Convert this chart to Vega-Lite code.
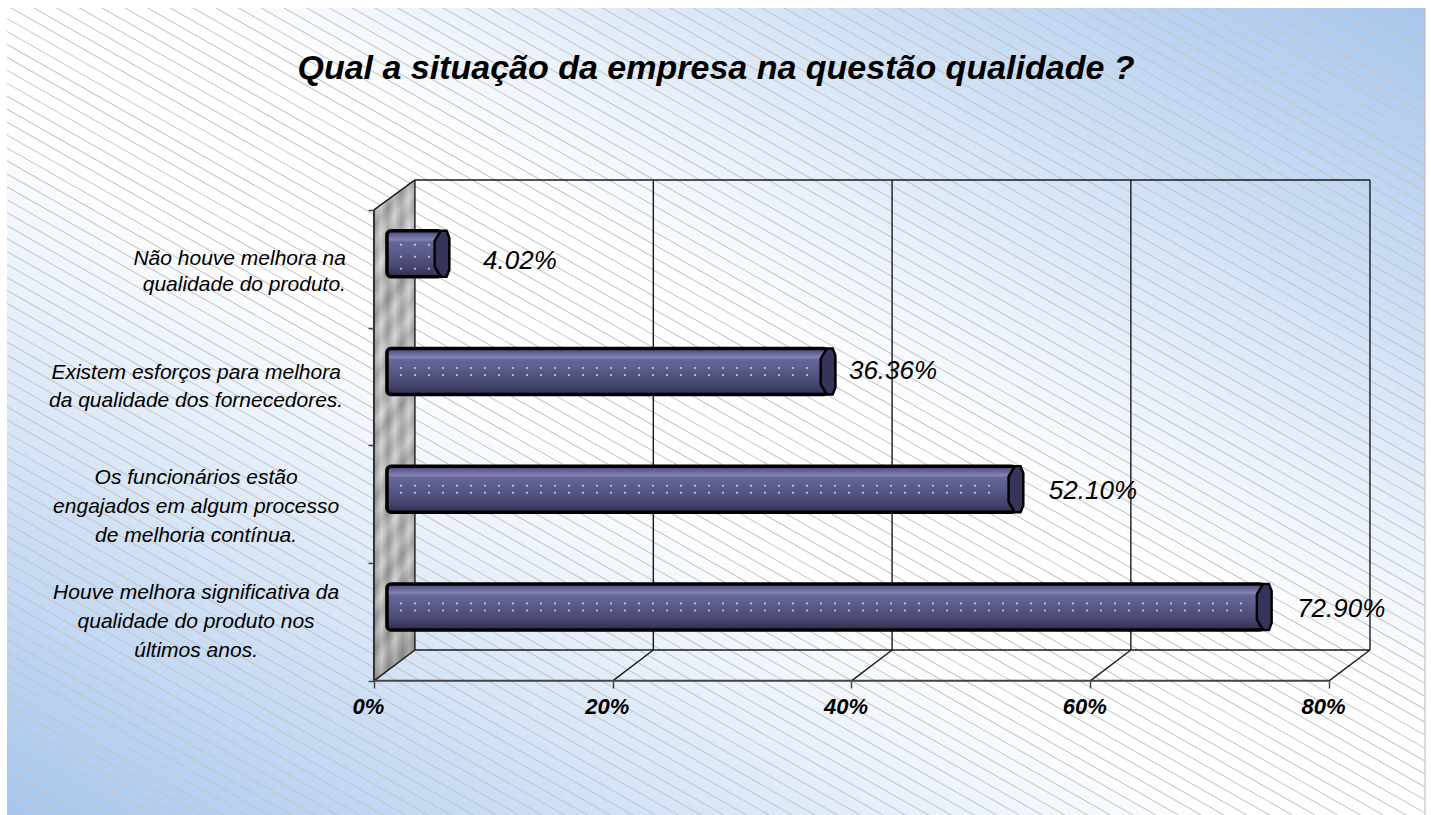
{"$schema":"https://vega.github.io/schema/vega-lite/v6.json","width":1418,"height":807,"padding":{"left":7,"top":8,"right":6,"bottom":0},"autosize":"none","background":"white","title":{"text":"Qual a situação da empresa na questão qualidade ?","font":"Liberation Sans","fontSize":34,"fontWeight":"bold","fontStyle":"italic","color":"#000","anchor":"middle","offset":-78},"config":{"view":{"stroke":null}},
"datasets":{"bars":[{"rank":4,"value":4.02,"start":0,"label":"4.02%"},{"rank":3,"value":36.36,"start":0,"label":"36.36%"},{"rank":2,"value":52.10,"start":0,"label":"52.10%"},{"rank":1,"value":72.90,"start":0,"label":"72.90%"}],
"cats":[{"rank":4,"lines":2,"cat":"Não houve melhora na|qualidade do produto."},{"rank":3,"lines":2,"cat":"Existem esforços para melhora|da qualidade dos fornecedores."},{"rank":2,"lines":3,"cat":"Os funcionários estão|engajados em algum processo|de melhoria contínua."},{"rank":1,"lines":3,"cat":"Houve melhora significativa da|qualidade do produto nos|últimos anos."}],
"frame":[{"a":3.43,"b":83.43,"c":4.754,"d":4.754},{"a":3.43,"b":83.43,"c":0.762,"d":0.762},{"a":3.43,"b":3.43,"c":0.762,"d":4.754},{"a":23.4,"b":23.4,"c":0.762,"d":4.754},{"a":43.4,"b":43.4,"c":0.762,"d":4.754},{"a":63.4,"b":63.4,"c":0.762,"d":4.754},{"a":83.43,"b":83.43,"c":0.762,"d":4.754},{"a":0,"b":3.43,"c":0.5,"d":0.762},{"a":20,"b":23.4,"c":0.5,"d":0.762},{"a":40,"b":43.4,"c":0.5,"d":0.762},{"a":60,"b":63.4,"c":0.5,"d":0.762},{"a":80,"b":83.43,"c":0.5,"d":0.762},{"a":0,"b":3.43,"c":4.5,"d":4.754}],
"wall":[{"x":0,"top":4.5,"bottom":0.5},{"x":3.43,"top":4.754,"bottom":0.762}]},
"layer":[
{"data":{"values":[{"a":-30.74,"b":88.04,"c":-0.639,"d":6.214}]},"mark":{"type":"rect","fill":{"gradient":"linear","x1":0,"y1":1,"x2":1,"y2":0,"stops":[{"offset":0,"color":"#a6c6ee"},{"offset":0.25,"color":"#d8e6f7"},{"offset":0.43,"color":"#ffffff"},{"offset":0.56,"color":"#ffffff"},{"offset":0.75,"color":"#d8e6f7"},{"offset":1,"color":"#a6c6ee"}]}},"encoding":{"x":{"field":"a","type":"quantitative","scale":{"domain":[-30.74,88.04],"nice":false,"zero":false,"padding":0},"axis":{"values":[0,20,40,60,80],"title":null,"domain":false,"grid":false,"offset":-134,"zindex":1,"tickColor":"#444","tickSize":7,"tickWidth":1.5,"labelExpr":"datum.value+'%'","labelFont":"Liberation Sans","labelFontSize":22,"labelFontWeight":"bold","labelFontStyle":"italic","labelColor":"#000","labelOffset":-6,"labelPadding":8,"labelFlush":false}},"x2":{"field":"b"},"y":{"field":"c","type":"quantitative","scale":{"domain":[-0.639,6.214],"nice":false,"zero":false,"padding":0},"axis":{"values":[0.5,1.5,2.5,3.5,4.5],"title":null,"domain":false,"grid":false,"labels":false,"offset":-367,"zindex":1,"tickColor":"#444","tickSize":6,"tickWidth":1.5}},"y2":{"field":"d"}}},
{"data":{"values":[{"a":-12.8,"b":70.1,"c":-4.59,"d":10.17}]},"mark":{"type":"rule","clip":true,"stroke":"#c4c4c4","strokeWidth":3000,"strokeDash":[1,10.25],"strokeCap":"butt"},"encoding":{"x":{"field":"a","type":"quantitative"},"x2":{"field":"b"},"y":{"field":"c","type":"quantitative"},"y2":{"field":"d"}}},
{"data":{"values":[{"a":88.04,"c":-0.639,"d":6.214}]},"mark":{"type":"rule","stroke":"#b8b8b8","strokeWidth":1},"encoding":{"x":{"field":"a","type":"quantitative"},"y":{"field":"c","type":"quantitative"},"y2":{"field":"d"}}},
{"data":{"name":"wall"},"mark":{"type":"area","orient":"vertical","fill":{"gradient":"linear","x1":0,"y1":0,"x2":0.1,"y2":1,"stops":[{"offset":0,"color":"#c8c8c8"},{"offset":0.03,"color":"#a2a2a2"},{"offset":0.06,"color":"#d2d2d2"},{"offset":0.09,"color":"#999"},{"offset":0.12,"color":"#cdcdcd"},{"offset":0.15,"color":"#a8a8a8"},{"offset":0.18,"color":"#d8d8d8"},{"offset":0.21,"color":"#9e9e9e"},{"offset":0.24,"color":"#c6c6c6"},{"offset":0.27,"color":"#8f8f8f"},{"offset":0.3,"color":"#cfcfcf"},{"offset":0.33,"color":"#a4a4a4"},{"offset":0.36,"color":"#d4d4d4"},{"offset":0.39,"color":"#989898"},{"offset":0.42,"color":"#c9c9c9"},{"offset":0.45,"color":"#a0a0a0"},{"offset":0.48,"color":"#d6d6d6"},{"offset":0.51,"color":"#959595"},{"offset":0.54,"color":"#cbcbcb"},{"offset":0.57,"color":"#a6a6a6"},{"offset":0.6,"color":"#d0d0d0"},{"offset":0.63,"color":"#919191"},{"offset":0.66,"color":"#c5c5c5"},{"offset":0.69,"color":"#9c9c9c"},{"offset":0.72,"color":"#d3d3d3"},{"offset":0.75,"color":"#a1a1a1"},{"offset":0.78,"color":"#cacaca"},{"offset":0.81,"color":"#939393"},{"offset":0.84,"color":"#cecece"},{"offset":0.87,"color":"#8c8c8c"},{"offset":0.9,"color":"#c2c2c2"},{"offset":0.93,"color":"#8a8a8a"},{"offset":0.96,"color":"#bbbbbb"},{"offset":1,"color":"#858585"}]}},"encoding":{"x":{"field":"x","type":"quantitative"},"y":{"field":"top","type":"quantitative"},"y2":{"field":"bottom"}}},
{"data":{"name":"wall"},"mark":{"type":"area","orient":"vertical","opacity":0.4,"fill":{"gradient":"linear","x1":0,"y1":0.02,"x2":1,"y2":0,"stops":[{"offset":0,"color":"#777"},{"offset":0.17,"color":"#e4e4e4"},{"offset":0.34,"color":"#808080"},{"offset":0.5,"color":"#e0e0e0"},{"offset":0.67,"color":"#888"},{"offset":0.84,"color":"#dedede"},{"offset":1,"color":"#888"}]}},"encoding":{"x":{"field":"x","type":"quantitative"},"y":{"field":"top","type":"quantitative"},"y2":{"field":"bottom"}}},
{"data":{"name":"wall"},"mark":{"type":"rule","color":"#333","strokeWidth":2},"transform":[{"filter":"datum.x==0"}],"encoding":{"x":{"field":"x","type":"quantitative"},"y":{"field":"top","type":"quantitative"},"y2":{"field":"bottom"}}},
{"data":{"name":"frame"},"mark":{"type":"rule","color":"#1a1a1a","strokeWidth":1.4},"encoding":{"x":{"field":"a","type":"quantitative"},"x2":{"field":"b"},"y":{"field":"c","type":"quantitative"},"y2":{"field":"d"}}},
{"data":{"values":[{"a":0,"b":80,"c":0.5}]},"mark":{"type":"rule","color":"#444","strokeWidth":2},"encoding":{"x":{"field":"a","type":"quantitative"},"x2":{"field":"b"},"y":{"field":"c","type":"quantitative"}}},
{"data":{"name":"bars"},"mark":{"type":"bar","orient":"horizontal","size":46,"xOffset":13,"x2Offset":20,"yOffset":-15,"stroke":"#000","strokeWidth":3.5,"cornerRadius":4,"fill":{"gradient":"linear","x1":0,"y1":0,"x2":0,"y2":1,"stops":[{"offset":0,"color":"#46467a"},{"offset":0.12,"color":"#6a6aa0"},{"offset":0.2,"color":"#8484b2"},{"offset":0.24,"color":"#66669a"},{"offset":0.5,"color":"#595989"},{"offset":0.8,"color":"#45456e"},{"offset":1,"color":"#2e2e50"}]}},"encoding":{"x":{"field":"start","type":"quantitative"},"x2":{"field":"value"},"y":{"field":"rank","type":"quantitative","scale":{"padding":0}}}},
{"data":{"name":"bars"},"transform":[{"filter":"datum.rank!=4"}],"mark":{"type":"rule","xOffset":26,"x2Offset":2,"yOffset":-18.5,"y2Offset":-18.5,"stroke":"#d8d8ee","strokeOpacity":0.75,"strokeWidth":2,"strokeDash":[2,12]},"encoding":{"x":{"field":"start","type":"quantitative"},"x2":{"field":"value"},"y":{"field":"rank","type":"quantitative"}}},
{"data":{"name":"bars"},"transform":[{"filter":"datum.rank!=4"}],"mark":{"type":"rule","xOffset":26,"x2Offset":2,"yOffset":-11.5,"y2Offset":-11.5,"stroke":"#d8d8ee","strokeOpacity":0.75,"strokeWidth":2,"strokeDash":[2,12]},"encoding":{"x":{"field":"start","type":"quantitative"},"x2":{"field":"value"},"y":{"field":"rank","type":"quantitative"}}},
{"data":{"name":"bars"},"transform":[{"filter":"datum.rank==4"}],"mark":{"type":"rule","xOffset":26,"x2Offset":8,"yOffset":-24,"y2Offset":-24,"stroke":"#d8d8ee","strokeOpacity":0.75,"strokeWidth":2,"strokeDash":[2,12]},"encoding":{"x":{"field":"start","type":"quantitative"},"x2":{"field":"value"},"y":{"field":"rank","type":"quantitative"}}},
{"data":{"name":"bars"},"transform":[{"filter":"datum.rank==4"}],"mark":{"type":"rule","xOffset":26,"x2Offset":8,"yOffset":-12,"y2Offset":-12,"stroke":"#d8d8ee","strokeOpacity":0.75,"strokeWidth":2,"strokeDash":[2,12]},"encoding":{"x":{"field":"start","type":"quantitative"},"x2":{"field":"value"},"y":{"field":"rank","type":"quantitative"}}},
{"data":{"name":"bars"},"transform":[{"filter":"datum.rank==4"}],"mark":{"type":"rule","xOffset":26,"x2Offset":8,"yOffset":0,"y2Offset":0,"stroke":"#d8d8ee","strokeOpacity":0.75,"strokeWidth":2,"strokeDash":[2,12]},"encoding":{"x":{"field":"start","type":"quantitative"},"x2":{"field":"value"},"y":{"field":"rank","type":"quantitative"}}},
{"data":{"name":"bars"},"mark":{"type":"point","filled":true,"opacity":1,"fill":"#35355c","stroke":"#000","strokeWidth":2.5,"size":2116,"xOffset":20,"yOffset":-15,"shape":"M-0.05,-1L0.2,-1L0.32,-0.7L0.32,0.7L0.2,1L-0.05,1L-0.32,0.55L-0.32,-0.55Z"},"encoding":{"x":{"field":"value","type":"quantitative"},"y":{"field":"rank","type":"quantitative"}}},
{"data":{"name":"bars"},"transform":[{"filter":"datum.rank<3"}],"mark":{"type":"text","align":"center","baseline":"middle","dx":97,"dy":-13,"font":"Liberation Sans","fontStyle":"italic","fontSize":26,"color":"#000"},"encoding":{"x":{"field":"value","type":"quantitative"},"y":{"field":"rank","type":"quantitative"},"text":{"field":"label"}}},
{"data":{"name":"bars"},"transform":[{"filter":"datum.rank==4"}],"mark":{"type":"text","align":"center","baseline":"middle","dx":98,"dy":-8,"font":"Liberation Sans","fontStyle":"italic","fontSize":26,"color":"#000"},"encoding":{"x":{"field":"value","type":"quantitative"},"y":{"field":"rank","type":"quantitative"},"text":{"field":"label"}}},
{"data":{"name":"bars"},"transform":[{"filter":"datum.rank==3"}],"mark":{"type":"text","align":"center","baseline":"middle","dx":85,"dy":-15,"font":"Liberation Sans","fontStyle":"italic","fontSize":26,"color":"#000"},"encoding":{"x":{"field":"value","type":"quantitative"},"y":{"field":"rank","type":"quantitative"},"text":{"field":"label"}}},
{"data":{"name":"cats"},"transform":[{"filter":"datum.rank==3"}],"mark":{"type":"text","align":"center","baseline":"middle","lineBreak":"|","lineHeight":28,"dy":-13,"font":"Liberation Sans","fontStyle":"italic","fontSize":21,"color":"#000"},"encoding":{"x":{"datum":-14.9,"type":"quantitative"},"y":{"field":"rank","type":"quantitative"},"text":{"field":"cat"}}},
{"data":{"name":"cats"},"transform":[{"filter":"datum.rank==2"}],"mark":{"type":"text","align":"center","baseline":"middle","lineBreak":"|","lineHeight":29,"dy":-26,"font":"Liberation Sans","fontStyle":"italic","fontSize":21,"color":"#000"},"encoding":{"x":{"datum":-14.9,"type":"quantitative"},"y":{"field":"rank","type":"quantitative"},"text":{"field":"cat"}}},
{"data":{"name":"cats"},"transform":[{"filter":"datum.rank==1"}],"mark":{"type":"text","align":"center","baseline":"middle","lineBreak":"|","lineHeight":29,"dy":-29,"font":"Liberation Sans","fontStyle":"italic","fontSize":21,"color":"#000"},"encoding":{"x":{"datum":-14.9,"type":"quantitative"},"y":{"field":"rank","type":"quantitative"},"text":{"field":"cat"}}},
{"data":{"name":"cats"},"transform":[{"filter":"datum.rank==4"}],"mark":{"type":"text","align":"right","baseline":"middle","lineBreak":"|","lineHeight":26,"dy":-10,"font":"Liberation Sans","fontStyle":"italic","fontSize":21,"color":"#000"},"encoding":{"x":{"datum":-2.35,"type":"quantitative"},"y":{"field":"rank","type":"quantitative"},"text":{"field":"cat"}}}
],"resolve":{"scale":{"x":"shared","y":"shared"}}}
